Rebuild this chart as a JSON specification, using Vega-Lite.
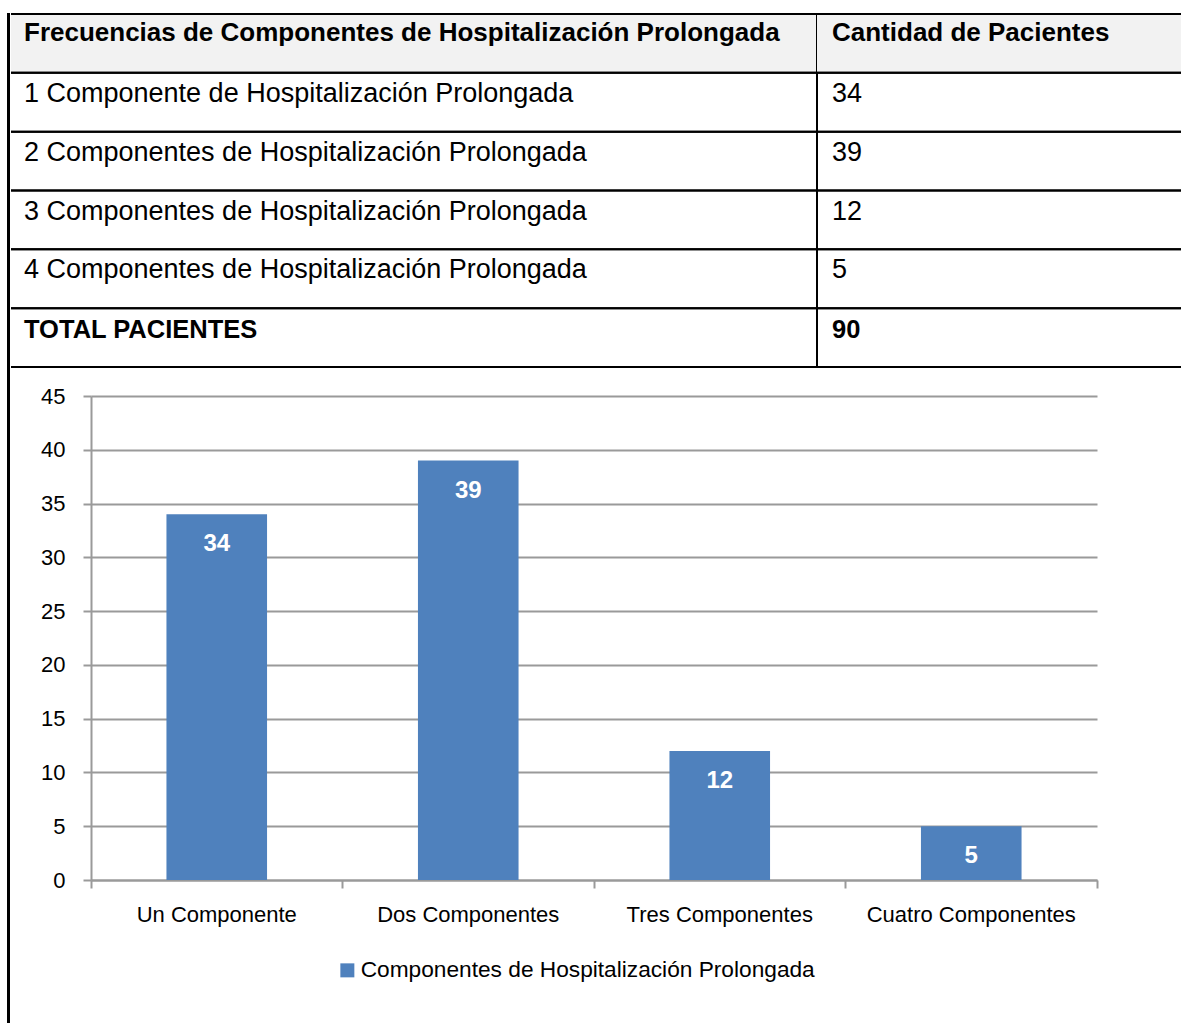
{
  "$schema": "https://vega.github.io/schema/vega-lite/v6.json",
  "usermeta": {"embedOptions": {"actions": false}},
  "padding": {"left": 7, "top": 13, "right": 0, "bottom": 0},
  "background": "white",
  "spacing": 0,
  "datasets": {
    "tabla": [
      {"fila": 0, "tipo": "encabezado", "frecuencia": "Frecuencias de Componentes de Hospitalización Prolongada", "cantidad": "Cantidad de Pacientes"},
      {"fila": 1, "tipo": "dato", "frecuencia": "1 Componente de Hospitalización Prolongada", "cantidad": "34"},
      {"fila": 2, "tipo": "dato", "frecuencia": "2 Componentes de Hospitalización Prolongada", "cantidad": "39"},
      {"fila": 3, "tipo": "dato", "frecuencia": "3 Componentes de Hospitalización Prolongada", "cantidad": "12"},
      {"fila": 4, "tipo": "dato", "frecuencia": "4 Componentes de Hospitalización Prolongada", "cantidad": "5"},
      {"fila": 5, "tipo": "total", "frecuencia": "TOTAL PACIENTES", "cantidad": "90"}
    ],
    "grafico": [
      {"componente": "Un Componente", "pacientes": 34, "serie": "Componentes de Hospitalización Prolongada"},
      {"componente": "Dos Componentes", "pacientes": 39, "serie": "Componentes de Hospitalización Prolongada"},
      {"componente": "Tres Componentes", "pacientes": 12, "serie": "Componentes de Hospitalización Prolongada"},
      {"componente": "Cuatro Componentes", "pacientes": 5, "serie": "Componentes de Hospitalización Prolongada"}
    ]
  },
  "config": {
    "view": {"stroke": null},
    "font": "Liberation Sans"
  },
  "hconcat": [
    {
      "width": 1,
      "height": 1008,
      "view": {"stroke": "black", "strokeWidth": 2, "fill": "black"},
      "data": {"values": []},
      "mark": "point",
      "encoding": {}
    },
    {
      "spacing": 17,
      "vconcat": [
        {
          "spacing": 0,
          "bounds": "flush",
          "hconcat": [
            {
              "width": 806,
              "height": 353,
              "data": {"name": "tabla"},
              "layer": [
                {
                  "transform": [{"filter": "datum.tipo === 'encabezado'"}],
                  "mark": {"type": "rect", "fill": "#f2f2f2"},
                  "encoding": {
                    "x": {"value": 0}, "x2": {"value": "width"},
                    "y": {"field": "fila", "type": "ordinal", "axis": null, "scale": {"domain": [0, 1, 2, 3, 4, 5], "paddingInner": 0, "paddingOuter": 0}}
                  }
                },
                {
                  "mark": {"type": "rule", "color": "black", "strokeWidth": 2},
                  "encoding": {"y": {"field": "fila", "type": "ordinal", "bandPosition": 0, "axis": null}}
                },
                {
                  "mark": {"type": "rule", "color": "black", "strokeWidth": 2},
                  "encoding": {"y": {"field": "fila", "type": "ordinal", "bandPosition": 1, "axis": null}}
                },
                {
                  "mark": {"type": "rule", "color": "black", "strokeWidth": 2},
                  "encoding": {"x": {"value": "width"}, "y": {"value": 0}, "y2": {"value": "height"}}
                },
                {
                  "transform": [{"filter": "datum.tipo === 'encabezado'"}],
                  "mark": {"type": "text", "align": "left", "baseline": "alphabetic", "dx": 13, "dy": 27, "fontSize": 26, "fontWeight": "bold", "color": "black"},
                  "encoding": {"x": {"value": 0}, "y": {"field": "fila", "type": "ordinal", "bandPosition": 0, "axis": null}, "text": {"field": "frecuencia"}}
                },
                {
                  "transform": [{"filter": "datum.tipo === 'dato'"}],
                  "mark": {"type": "text", "align": "left", "baseline": "alphabetic", "dx": 13, "dy": 29, "fontSize": 27, "color": "black"},
                  "encoding": {"x": {"value": 0}, "y": {"field": "fila", "type": "ordinal", "bandPosition": 0, "axis": null}, "text": {"field": "frecuencia"}}
                },
                {
                  "transform": [{"filter": "datum.tipo === 'total'"}],
                  "mark": {"type": "text", "align": "left", "baseline": "alphabetic", "dx": 13, "dy": 30, "fontSize": 25.5, "fontWeight": "bold", "color": "black"},
                  "encoding": {"x": {"value": 0}, "y": {"field": "fila", "type": "ordinal", "bandPosition": 0, "axis": null}, "text": {"field": "frecuencia"}}
                }
              ]
            },
            {
              "width": 364,
              "height": 353,
              "data": {"name": "tabla"},
              "layer": [
                {
                  "transform": [{"filter": "datum.tipo === 'encabezado'"}],
                  "mark": {"type": "rect", "fill": "#f2f2f2"},
                  "encoding": {
                    "x": {"value": 0}, "x2": {"value": "width"},
                    "y": {"field": "fila", "type": "ordinal", "axis": null, "scale": {"domain": [0, 1, 2, 3, 4, 5], "paddingInner": 0, "paddingOuter": 0}}
                  }
                },
                {
                  "mark": {"type": "rule", "color": "black", "strokeWidth": 2},
                  "encoding": {"y": {"field": "fila", "type": "ordinal", "bandPosition": 0, "axis": null}}
                },
                {
                  "mark": {"type": "rule", "color": "black", "strokeWidth": 2},
                  "encoding": {"y": {"field": "fila", "type": "ordinal", "bandPosition": 1, "axis": null}}
                },
                {
                  "transform": [{"filter": "datum.tipo === 'encabezado'"}],
                  "mark": {"type": "text", "align": "left", "baseline": "alphabetic", "dx": 15, "dy": 27, "fontSize": 26, "fontWeight": "bold", "color": "black"},
                  "encoding": {"x": {"value": 0}, "y": {"field": "fila", "type": "ordinal", "bandPosition": 0, "axis": null}, "text": {"field": "cantidad"}}
                },
                {
                  "transform": [{"filter": "datum.tipo === 'dato'"}],
                  "mark": {"type": "text", "align": "left", "baseline": "alphabetic", "dx": 15, "dy": 29, "fontSize": 27, "color": "black"},
                  "encoding": {"x": {"value": 0}, "y": {"field": "fila", "type": "ordinal", "bandPosition": 0, "axis": null}, "text": {"field": "cantidad"}}
                },
                {
                  "transform": [{"filter": "datum.tipo === 'total'"}],
                  "mark": {"type": "text", "align": "left", "baseline": "alphabetic", "dx": 15, "dy": 30, "fontSize": 25.5, "fontWeight": "bold", "color": "black"},
                  "encoding": {"x": {"value": 0}, "y": {"field": "fila", "type": "ordinal", "bandPosition": 0, "axis": null}, "text": {"field": "cantidad"}}
                }
              ]
            }
          ]
        },
        {
          "spacing": 0,
          "hconcat": [
            {
              "width": 29,
              "height": 10,
              "data": {"values": []},
              "mark": "point",
              "encoding": {}
            },
            {
              "width": 1006,
              "height": 484,
              "data": {"name": "grafico"},
              "layer": [
                {
                  "mark": {"type": "bar", "width": {"band": 0.4}},
                  "encoding": {
                    "x": {
                      "field": "componente",
                      "type": "nominal",
                      "sort": null,
                      "scale": {"paddingInner": 0, "paddingOuter": 0},
                      "axis": {
                        "title": null,
                        "labelAngle": 0,
                        "labelFontSize": 22,
                        "labelColor": "black",
                        "labelPadding": 16,
                        "labelLimit": 300,
                        "domainColor": "#9a9a9a",
                        "domainWidth": 2,
                        "tickColor": "#9a9a9a",
                        "tickWidth": 2,
                        "tickSize": 8,
                        "bandPosition": 1,
                        "tickExtra": true,
                        "grid": false
                      }
                    },
                    "y": {
                      "field": "pacientes",
                      "type": "quantitative",
                      "scale": {"domain": [0, 45]},
                      "axis": {
                        "title": null,
                        "values": [0, 5, 10, 15, 20, 25, 30, 35, 40, 45],
                        "labelFontSize": 22,
                        "labelColor": "black",
                        "labelPadding": 18,
                        "domainColor": "#9a9a9a",
                        "domainWidth": 2,
                        "tickColor": "#9a9a9a",
                        "tickWidth": 2,
                        "tickSize": 8,
                        "grid": true,
                        "gridColor": "#9a9a9a",
                        "gridWidth": 2
                      }
                    },
                    "color": {
                      "field": "serie",
                      "type": "nominal",
                      "scale": {"range": ["#4f81bd"]},
                      "legend": {
                        "orient": "none",
                        "legendX": 328,
                        "legendY": 945,
                        "title": null,
                        "padding": 0,
                        "symbolType": "square",
                        "symbolSize": 196,
                        "symbolStrokeWidth": 0,
                        "labelFontSize": 22.7,
                        "labelColor": "black",
                        "labelOffset": 2,
                        "labelLimit": 700
                      }
                    }
                  }
                },
                {
                  "mark": {"type": "text", "color": "white", "fontSize": 24, "fontWeight": "bold", "baseline": "middle", "dy": 30},
                  "encoding": {
                    "x": {"field": "componente", "type": "nominal", "sort": null},
                    "y": {"field": "pacientes", "type": "quantitative"},
                    "text": {"field": "pacientes", "type": "quantitative"}
                  }
                }
              ]
            }
          ]
        }
      ]
    }
  ]
}
